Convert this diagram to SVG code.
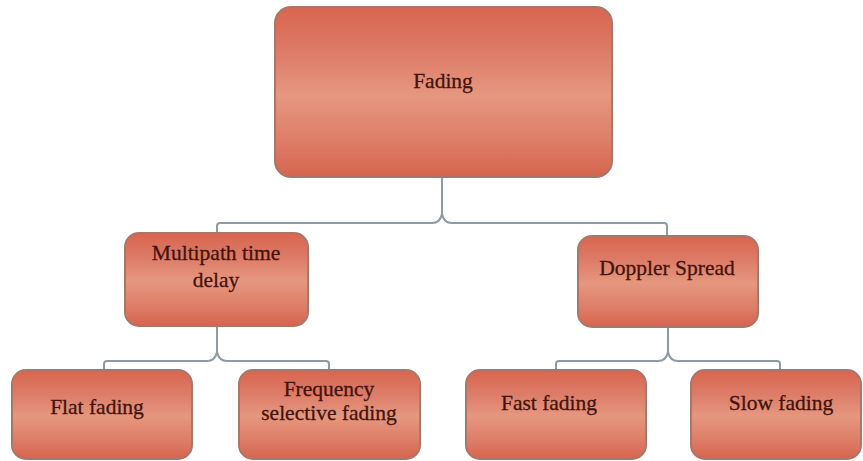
<svg xmlns="http://www.w3.org/2000/svg" width="863" height="461" viewBox="0 0 863 461">
<defs>
<linearGradient id="g" x1="0" y1="0" x2="0" y2="1">
<stop offset="0" stop-color="#d9654f"/>
<stop offset="0.25" stop-color="#dc7a66"/>
<stop offset="0.52" stop-color="#e6977f"/>
<stop offset="0.8" stop-color="#dd7c66"/>
<stop offset="1" stop-color="#d6644e"/>
</linearGradient>
</defs>
<style>
.box{fill:url(#g);stroke:#a9766a;stroke-width:2}
.t{font-family:"Liberation Serif","DejaVu Serif",serif;font-size:21.5px;fill:#45130b;stroke:#45130b;stroke-width:0.3;text-anchor:middle}
.c{fill:none;stroke:#8f9ba1;stroke-width:2}
</style>
<g id="connectors">
<path class="c" d="M442,177 V214 Q444,223 452,223 H664 Q667,223 667,226 V237 M442,214 Q440,223 432,223 H220 Q217,223 217,226 V234"/>
<path class="c" d="M217,326 V352 Q219,361 227,361 H326 Q329,361 329,364 V371 M217,352 Q215,361 207,361 H107 Q104,361 104,364 V371"/>
<path class="c" d="M668,327 V352 Q670,361 678,361 H777 Q780,361 780,364 V371 M668,352 Q666,361 658,361 H559 Q556,361 556,364 V371"/>
</g>
<g id="fading">
<rect class="box" x="275" y="7" width="337" height="170" rx="16"/>
<text class="t" x="443" y="88">Fading</text>
</g>
<g id="multipath">
<rect class="box" x="125" y="233" width="183" height="93" rx="14"/>
<text class="t" x="216" y="260">Multipath time</text>
<text class="t" x="216" y="287">delay</text>
</g>
<g id="doppler">
<rect class="box" x="578" y="236" width="180" height="91" rx="14"/>
<text class="t" x="667" y="275">Doppler Spread</text>
</g>
<g id="flat">
<rect class="box" x="12" y="370" width="180" height="89" rx="14"/>
<text class="t" x="97" y="414">Flat fading</text>
</g>
<g id="frequency">
<rect class="box" x="239" y="370" width="181" height="89" rx="14"/>
<text class="t" x="329" y="396">Frequency</text>
<text class="t" x="329" y="420">selective fading</text>
</g>
<g id="fast">
<rect class="box" x="466" y="370" width="180" height="89" rx="14"/>
<text class="t" x="549" y="410">Fast fading</text>
</g>
<g id="slow">
<rect class="box" x="691" y="370" width="170" height="89" rx="14"/>
<text class="t" x="781" y="410">Slow fading</text>
</g>
</svg>
